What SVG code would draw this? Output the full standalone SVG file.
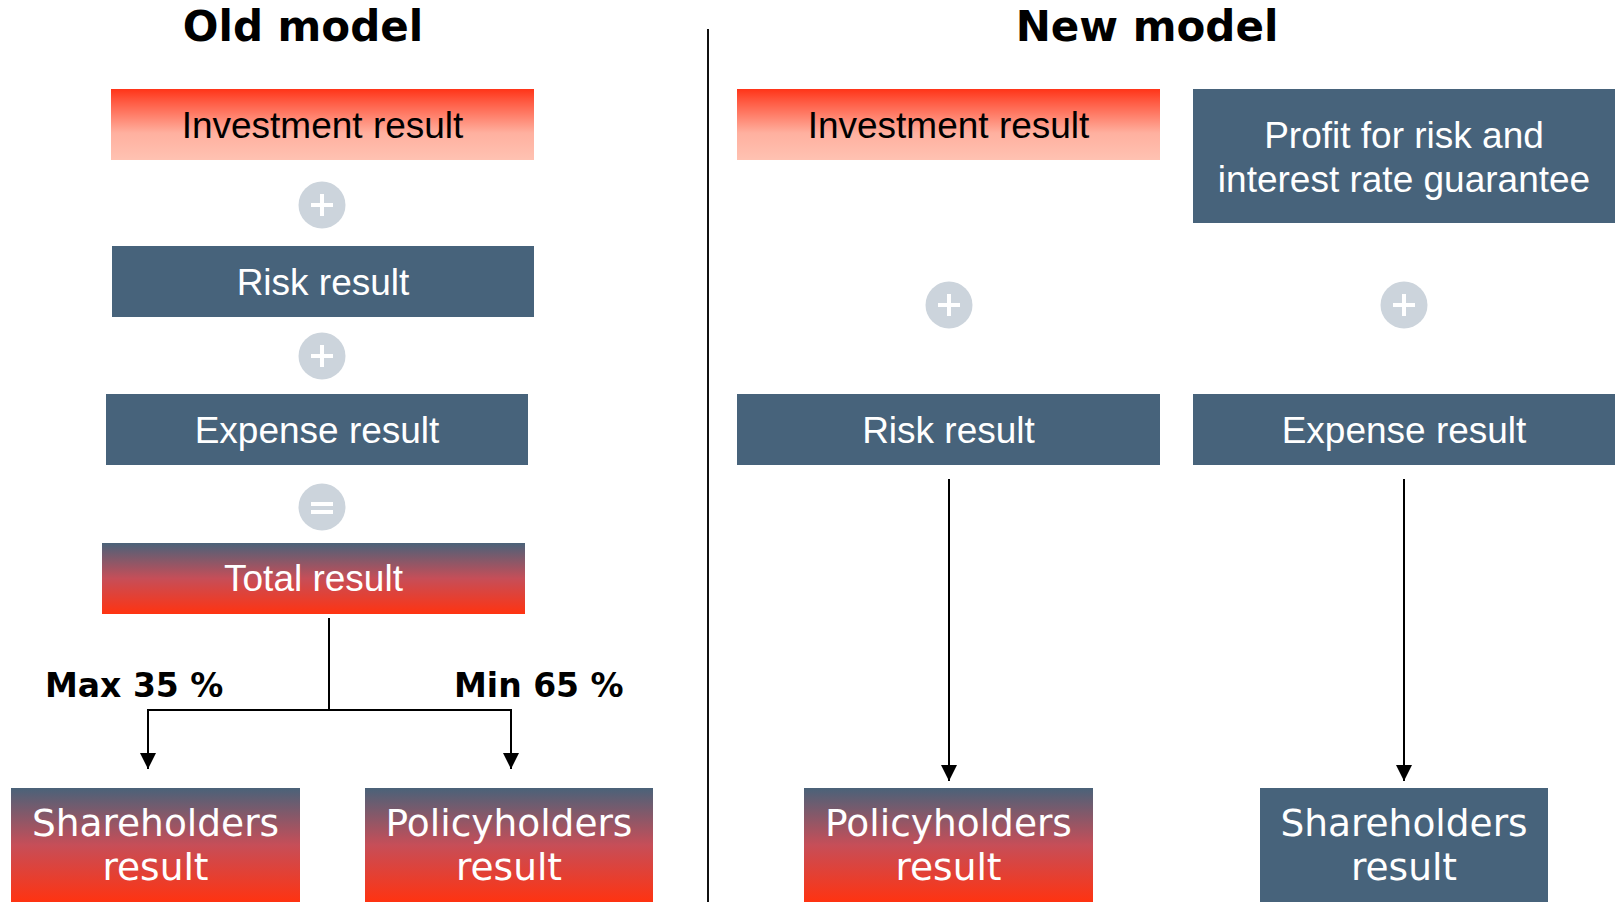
<svg xmlns="http://www.w3.org/2000/svg" width="1621" height="902" viewBox="0 0 1621 902">
  <defs>
    <linearGradient id="gInvest" x1="0" y1="0" x2="0" y2="1">
      <stop offset="0" stop-color="#ff3418"/>
      <stop offset="0.18" stop-color="#ff5a42"/>
      <stop offset="0.62" stop-color="#ffb09f"/>
      <stop offset="1" stop-color="#ffc2b2"/>
    </linearGradient>
    <linearGradient id="gResult" x1="0" y1="0" x2="0" y2="1">
      <stop offset="0" stop-color="#4a6279"/>
      <stop offset="0.5" stop-color="#c64e58"/>
      <stop offset="1" stop-color="#ff3311"/>
    </linearGradient>
    <marker id="arrow" viewBox="0 0 16 16" refX="16" refY="8" markerWidth="16" markerHeight="16" markerUnits="userSpaceOnUse" orient="auto">
      <path d="M0,0 L16,8 L0,16 Z" fill="#000"/>
    </marker>
  </defs>
  <style>
    .title { font-family: "DejaVu Sans", sans-serif; font-weight: bold; font-size: 42px; fill: #000; text-anchor: middle; }
    .pct { font-family: "DejaVu Sans", sans-serif; font-weight: bold; font-size: 33px; fill: #000; }
    .lbl { font-family: "Liberation Sans", Arial, sans-serif; font-size: 37px; text-anchor: middle; }
    .lbl-dark { fill: #000; }
    .lbl-light { fill: #fff; }
    .big { font-family: "DejaVu Sans", sans-serif; font-size: 37.5px; fill: #fff; text-anchor: middle; }
    .blue { fill: #47637b; }
    .invest { fill: url(#gInvest); }
    .result { fill: url(#gResult); }
    .op { fill: #ccd4dc; }
    .sign { fill: #fff; }
    .conn { stroke: #000; stroke-width: 2; fill: none; }
  </style>

  <rect width="1621" height="902" fill="#fff"/>

  <!-- headings and divider -->
  <text class="title" x="303" y="41">Old model</text>
  <text class="title" x="1147" y="41">New model</text>
  <line x1="708" y1="29" x2="708" y2="902" stroke="#111" stroke-width="2"/>

  <!-- old model column -->
  <g id="old-investment">
    <rect class="invest" x="111" y="89" width="423" height="71"/>
    <text class="lbl lbl-dark" x="322.5" y="138">Investment result</text>
  </g>
  <g id="old-plus-1">
    <circle class="op" cx="322" cy="205" r="23.5"/>
    <rect class="sign" x="311" y="203" width="22" height="4"/>
    <rect class="sign" x="320" y="194" width="4" height="22"/>
  </g>
  <g id="old-risk">
    <rect class="blue" x="112" y="246" width="422" height="71"/>
    <text class="lbl lbl-light" x="323" y="295">Risk result</text>
  </g>
  <g id="old-plus-2">
    <circle class="op" cx="322" cy="356" r="23.5"/>
    <rect class="sign" x="311" y="354" width="22" height="4"/>
    <rect class="sign" x="320" y="345" width="4" height="22"/>
  </g>
  <g id="old-expense">
    <rect class="blue" x="106" y="394" width="422" height="71"/>
    <text class="lbl lbl-light" x="317" y="443">Expense result</text>
  </g>
  <g id="old-equals">
    <circle class="op" cx="322" cy="507" r="23.5"/>
    <rect class="sign" x="311" y="502" width="22" height="4"/>
    <rect class="sign" x="311" y="510" width="22" height="4"/>
  </g>
  <g id="old-total">
    <rect class="result" x="102" y="543" width="423" height="71"/>
    <text class="lbl lbl-light" x="313.5" y="591">Total result</text>
  </g>
  <g id="old-shareholders">
    <rect class="result" x="11" y="788" width="289" height="114"/>
    <text class="big" x="155.5" y="836">Shareholders</text>
    <text class="big" x="155.5" y="880">result</text>
  </g>
  <g id="old-policyholders">
    <rect class="result" x="365" y="788" width="288" height="114"/>
    <text class="big" x="509" y="836">Policyholders</text>
    <text class="big" x="509" y="880">result</text>
  </g>
  <text class="pct" x="45" y="697">Max 35 %</text>
  <text class="pct" x="454" y="697">Min 65 %</text>

  <!-- new model columns -->
  <g id="new-investment">
    <rect class="invest" x="737" y="89" width="423" height="71"/>
    <text class="lbl lbl-dark" x="948.5" y="138">Investment result</text>
  </g>
  <g id="new-profit">
    <rect class="blue" x="1193" y="89" width="422" height="134"/>
    <text class="lbl lbl-light" x="1404" y="148">Profit for risk and</text>
    <text class="lbl lbl-light" x="1404" y="192">interest rate guarantee</text>
  </g>
  <g id="new-plus-1">
    <circle class="op" cx="949" cy="305" r="23.5"/>
    <rect class="sign" x="938" y="303" width="22" height="4"/>
    <rect class="sign" x="947" y="294" width="4" height="22"/>
  </g>
  <g id="new-plus-2">
    <circle class="op" cx="1404" cy="305" r="23.5"/>
    <rect class="sign" x="1393" y="303" width="22" height="4"/>
    <rect class="sign" x="1402" y="294" width="4" height="22"/>
  </g>
  <g id="new-risk">
    <rect class="blue" x="737" y="394" width="423" height="71"/>
    <text class="lbl lbl-light" x="948.5" y="443">Risk result</text>
  </g>
  <g id="new-expense">
    <rect class="blue" x="1193" y="394" width="422" height="71"/>
    <text class="lbl lbl-light" x="1404" y="443">Expense result</text>
  </g>
  <g id="new-policyholders">
    <rect class="result" x="804" y="788" width="289" height="114"/>
    <text class="big" x="948.5" y="836">Policyholders</text>
    <text class="big" x="948.5" y="880">result</text>
  </g>
  <g id="new-shareholders">
    <rect class="blue" x="1260" y="788" width="288" height="114"/>
    <text class="big" x="1404" y="836">Shareholders</text>
    <text class="big" x="1404" y="880">result</text>
  </g>

  <!-- connectors -->
  <g id="connectors">
    <line class="conn" x1="329" y1="618" x2="329" y2="710"/>
    <path class="conn" d="M329,710 H148 V769" marker-end="url(#arrow)"/>
    <path class="conn" d="M329,710 H511 V769" marker-end="url(#arrow)"/>
    <line class="conn" x1="949" y1="479" x2="949" y2="781" marker-end="url(#arrow)"/>
    <line class="conn" x1="1404" y1="479" x2="1404" y2="781" marker-end="url(#arrow)"/>
  </g>
</svg>
